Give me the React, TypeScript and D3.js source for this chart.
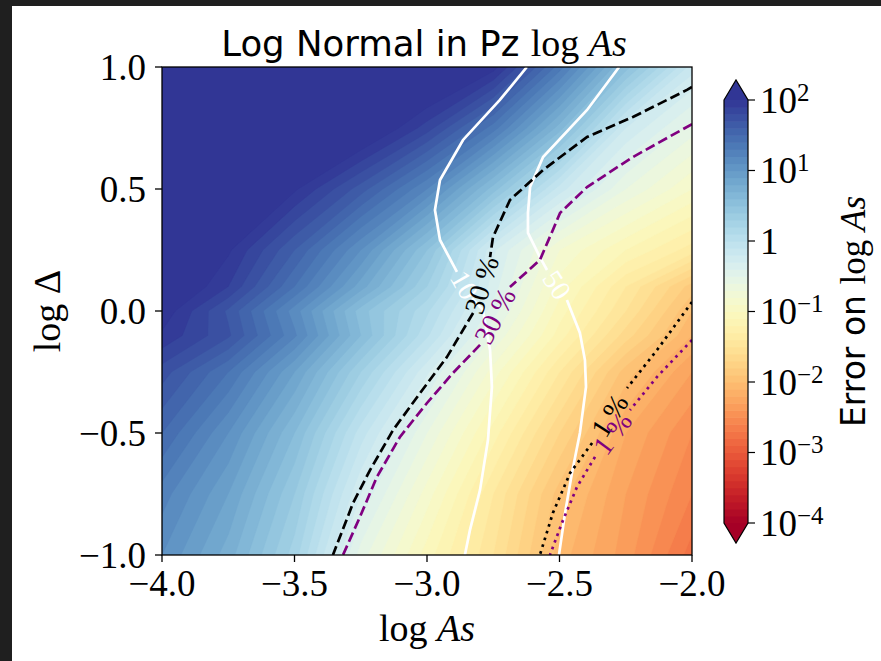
import React, { useEffect } from 'react';
import * as d3 from 'd3';

// ---------- layout ----------
const W = 881;
const H = 661;
const PLOT = { left: 162, right: 692, top: 67, bottom: 555 };
const CBAR = { left: 724, right: 748, top: 100, bottom: 523, tip: 20 };

// ---------- data ----------
// grid of the filled field (log10 of the error on log As)
const xGrid = [-4, -3.75, -3.5, -3.25, -3, -2.75, -2.5, -2.25, -2];
const yGrid = [1, 0.75, 0.5, 0.25, 0.1, 0, -0.1, -0.25, -0.5, -0.75, -1];
const logError = [
  [2.4, 2.4, 2.4, 2.35, 2.3, 2.05, 1.35, 0.55, -0.15],
  [2.4, 2.4, 2.35, 2.2, 1.85, 1.35, 0.65, -0.2, -0.55],
  [2.4, 2.35, 2.02, 1.65, 1.2, 0.55, -0.15, -0.6, -0.9],
  [2.3, 2.02, 1.6, 1.1, 0.5, -0.28, -0.8, -1.1, -1.35],
  [2.2, 1.9, 1.4, 0.85, 0.3, -0.35, -0.95, -1.4, -1.85],
  [2.08, 1.68, 1.15, 0.55, 0.12, -0.45, -1.05, -1.5, -2.0],
  [1.98, 1.72, 1.22, 0.6, 0.02, -0.6, -1.15, -1.65, -2.1],
  [1.75, 1.4, 0.9, 0.3, -0.28, -0.85, -1.4, -1.95, -2.3],
  [1.5, 1.1, 0.6, -0.05, -0.6, -1.15, -1.7, -2.2, -2.5],
  [1.25, 0.9, 0.4, -0.3, -0.85, -1.4, -1.95, -2.3, -2.6],
  [1.1, 0.75, 0.25, -0.55, -1.05, -1.5, -2.05, -2.35, -2.75],
];

const levelMin = -4;
const levelMax = 2;
const levelCount = 60;

const xTicks = [-4, -3.5, -3, -2.5, -2];
const yTicks = [-1, -0.5, 0, 0.5, 1];
const cbarTicks = [-4, -3, -2, -1, 0, 1, 2];

type Pt = [number, number];

// labelled contour lines (segment before and after the inline label)
const white10A: Pt[] = [[-2.623, 1.0], [-2.725, 0.865], [-2.864, 0.701], [-2.951, 0.537], [-2.97, 0.414], [-2.951, 0.291], [-2.887, 0.16]];
const white10B: Pt[] = [[-2.83, 0.053], [-2.789, 0.004], [-2.762, -0.16], [-2.755, -0.311], [-2.77, -0.529], [-2.8, -0.734], [-2.838, -0.898], [-2.857, -1.0]];
const white50A: Pt[] = [[-2.275, 1.0], [-2.396, 0.824], [-2.562, 0.631], [-2.611, 0.508], [-2.619, 0.402], [-2.619, 0.32], [-2.574, 0.221], [-2.547, 0.168]];
const white50B: Pt[] = [[-2.472, 0.045], [-2.423, -0.09], [-2.404, -0.201], [-2.4, -0.311], [-2.423, -0.5], [-2.453, -0.664], [-2.479, -0.828], [-2.502, -1.0]];
const black30A: Pt[] = [[-2.0, 0.918], [-2.019, 0.906], [-2.223, 0.795], [-2.396, 0.713], [-2.562, 0.578], [-2.687, 0.455], [-2.751, 0.303], [-2.762, 0.221]];
const black30B: Pt[] = [[-2.826, -0.008], [-2.925, -0.189], [-3.026, -0.336], [-3.128, -0.488], [-3.215, -0.652], [-3.279, -0.787], [-3.355, -1.0]];
const purple30A: Pt[] = [[-2.0, 0.766], [-2.223, 0.631], [-2.396, 0.508], [-2.498, 0.402], [-2.525, 0.332], [-2.574, 0.209], [-2.687, 0.098]];
const purple30B: Pt[] = [[-2.8, -0.139], [-2.902, -0.254], [-3.0, -0.377], [-3.102, -0.516], [-3.189, -0.68], [-3.253, -0.844], [-3.317, -1.0]];
const black1A: Pt[] = [[-2.0, 0.037], [-2.132, -0.16], [-2.245, -0.316]];
const black1B: Pt[] = [[-2.377, -0.541], [-2.46, -0.664], [-2.525, -0.828], [-2.574, -1.0]];
const purple1A: Pt[] = [[-2.0, -0.119], [-2.132, -0.27], [-2.234, -0.406]];
const purple1B: Pt[] = [[-2.366, -0.598], [-2.434, -0.721], [-2.491, -0.869], [-2.536, -1.0]];

const lineSpecs = [
  { a: white10A, b: white10B, label: '10', color: '#ffffff', style: 'solid' },
  { a: white50A, b: white50B, label: '50', color: '#ffffff', style: 'solid' },
  { a: black30A, b: black30B, label: '30 %', color: '#000000', style: 'dashed' },
  { a: purple30A, b: purple30B, label: '30 %', color: '#800080', style: 'dashed' },
  { a: black1A, b: black1B, label: '1 %', color: '#000000', style: 'dotted' },
  { a: purple1A, b: purple1B, label: '1 %', color: '#800080', style: 'dotted' },
];

const OVER = '#313695';
const UNDER = '#a50026';
const SERIF = '"Liberation Serif", "DejaVu Serif", serif';
const SANS = '"DejaVu Sans", sans-serif';

export default function App() {
  useEffect(() => {
    document.documentElement.style.overflow = 'hidden';
    document.body.style.overflow = 'hidden';
    document.body.style.margin = '0';
  }, []);

  const xScale = d3.scaleLinear().domain([-4, -2]).range([PLOT.left, PLOT.right]);
  const yScale = d3.scaleLinear().domain([-1, 1]).range([PLOT.bottom, PLOT.top]);
  const cScale = d3.scaleLinear().domain([levelMin, levelMax]).range([CBAR.bottom, CBAR.top]);
  const cmap = (v: number) => d3.interpolateRdYlBu((v - levelMin) / (levelMax - levelMin));
  const step = (levelMax - levelMin) / levelCount;
  const levels = d3.range(0, levelCount + 1).map((i) => +(levelMin + i * step).toFixed(4));
  const bandColor = (t: number) =>
    t < levelMin ? UNDER : t >= levelMax - 1e-9 ? OVER : cmap(t + step / 2);

  const nx = xGrid.length;
  const ny = yGrid.length;
  const values = logError.flat();
  const thresholds = [-10, ...levels];
  const contours = d3.contours().size([nx, ny]).thresholds(thresholds)(values);
  const ix = d3.scaleLinear().domain(d3.range(nx)).range(xGrid);
  const iy = d3.scaleLinear().domain(d3.range(ny)).range(yGrid);
  const proj = d3.geoTransform({
    point(x: number, y: number) {
      const gx = Math.max(0, Math.min(nx - 1, x - 0.5));
      const gy = Math.max(0, Math.min(ny - 1, y - 0.5));
      (this as any).stream.point(xScale(ix(gx)), yScale(iy(gy)));
    },
  });
  const geoPath = d3.geoPath(proj);

  const line = d3
    .line<Pt>()
    .x((d) => xScale(d[0]))
    .y((d) => yScale(d[1]));

  const fmt = d3.format('.1f');

  const dashFor = (s: string) => (s === 'dashed' ? '10,4.3' : s === 'dotted' ? '2.7,4.4' : undefined);

  const labels = lineSpecs.map((s) => {
    const p0 = s.a[s.a.length - 1];
    const p1 = s.b[0];
    const x0 = xScale(p0[0]), y0 = yScale(p0[1]);
    const x1 = xScale(p1[0]), y1 = yScale(p1[1]);
    let ang = (Math.atan2(y1 - y0, x1 - x0) * 180) / Math.PI;
    if (ang > 90) ang -= 180;
    if (ang < -90) ang += 180;
    return { x: (x0 + x1) / 2, y: (y0 + y1) / 2, ang, text: s.label, color: s.color };
  });

  const cx = (CBAR.left + CBAR.right) / 2;
  const cbarOutline = `M${CBAR.left},${CBAR.top} L${cx},${CBAR.top - CBAR.tip} L${CBAR.right},${CBAR.top} L${CBAR.right},${CBAR.bottom} L${cx},${CBAR.bottom + CBAR.tip} L${CBAR.left},${CBAR.bottom} Z`;

  return (
    <svg
      width={W}
      height={H}
      viewBox={`0 0 ${W} ${H}`}
      style={{ position: 'fixed', left: 0, top: 0, display: 'block', background: '#ffffff' }}
    >
      <rect x={0} y={0} width={W} height={H} fill="#ffffff" />
      <rect x={0} y={0} width={W} height={6} fill="#1f1f1f" />
      <rect x={0} y={0} width={12} height={H} fill="#1f1f1f" />

      <defs>
        <clipPath id="plotClip">
          <rect x={PLOT.left} y={PLOT.top} width={PLOT.right - PLOT.left} height={PLOT.bottom - PLOT.top} />
        </clipPath>
      </defs>

      {/* filled contours */}
      <g clipPath="url(#plotClip)">
        {contours.map((c, i) => (
          <path key={i} d={geoPath(c as any) || ''} fill={bandColor(c.value)} stroke={bandColor(c.value)} strokeWidth={0.4} />
        ))}
        {lineSpecs.map((s, i) => (
          <g key={i}>
            {[s.a, s.b].map((seg, j) => (
              <path
                key={j}
                d={line(seg) || ''}
                fill="none"
                stroke={s.color}
                strokeWidth={2.7}
                strokeDasharray={dashFor(s.style)}
              />
            ))}
          </g>
        ))}
        {labels.map((l, i) => (
          <text
            key={i}
            transform={`translate(${l.x},${l.y}) rotate(${l.ang})`}
            textAnchor="middle"
            dominantBaseline="central"
            fontFamily={SERIF}
            fontSize={28}
            fill={l.color}
          >
            {l.text}
          </text>
        ))}
      </g>

      {/* axes frame */}
      <rect
        x={PLOT.left}
        y={PLOT.top}
        width={PLOT.right - PLOT.left}
        height={PLOT.bottom - PLOT.top}
        fill="none"
        stroke="#000"
        strokeWidth={1.3}
      />

      {/* x ticks */}
      {xTicks.map((t) => (
        <g key={`x${t}`}>
          <line x1={xScale(t)} x2={xScale(t)} y1={PLOT.bottom} y2={PLOT.bottom + 7} stroke="#000" strokeWidth={1.3} />
          <text x={xScale(t)} y={PLOT.bottom + 41} textAnchor="middle" fontFamily={SERIF} fontSize={37} fill="#000">
            {fmt(t)}
          </text>
        </g>
      ))}
      {/* y ticks */}
      {yTicks.map((t) => (
        <g key={`y${t}`}>
          <line x1={PLOT.left - 7} x2={PLOT.left} y1={yScale(t)} y2={yScale(t)} stroke="#000" strokeWidth={1.3} />
          <text x={PLOT.left - 16} y={yScale(t) + 12.5} textAnchor="end" fontFamily={SERIF} fontSize={37} fill="#000">
            {fmt(t)}
          </text>
        </g>
      ))}

      {/* axis labels */}
      <text x={(PLOT.left + PLOT.right) / 2} y={641} textAnchor="middle" fontFamily={SERIF} fontSize={38} fill="#000">
        log <tspan fontStyle="italic">As</tspan>
      </text>
      <text
        transform={`translate(60,${(PLOT.top + PLOT.bottom) / 2}) rotate(-90)`}
        textAnchor="middle"
        fontFamily={SERIF}
        fontSize={38}
        fill="#000"
      >
        log Δ
      </text>

      {/* title */}
      <text x={424} y={56} textAnchor="middle" fontFamily={SANS} fontSize={35.5} fill="#000">
        Log Normal in Pz{' '}
        <tspan fontFamily={SERIF} fontSize={38}>
          log <tspan fontStyle="italic">As</tspan>
        </tspan>
      </text>

      {/* colorbar */}
      <g>
        {levels.slice(0, -1).map((l) => (
          <rect
            key={`cb${l}`}
            x={CBAR.left}
            y={cScale(l + step)}
            width={CBAR.right - CBAR.left}
            height={cScale(l) - cScale(l + step) + 0.6}
            fill={bandColor(l)}
          />
        ))}
        <path d={`M${CBAR.left},${CBAR.top} L${cx},${CBAR.top - CBAR.tip} L${CBAR.right},${CBAR.top} Z`} fill={OVER} />
        <path d={`M${CBAR.left},${CBAR.bottom} L${cx},${CBAR.bottom + CBAR.tip} L${CBAR.right},${CBAR.bottom} Z`} fill={UNDER} />
        <path d={cbarOutline} fill="none" stroke="#000" strokeWidth={1.2} />
        {cbarTicks.map((t) => (
          <g key={`c${t}`}>
            <line x1={CBAR.right} x2={CBAR.right + 7} y1={cScale(t)} y2={cScale(t)} stroke="#000" strokeWidth={1.2} />
            <text x={CBAR.right + 12} y={cScale(t) + 12.5} fontFamily={SERIF} fontSize={37} fill="#000">
              {t === 0 ? '1' : '10'}
              {t !== 0 && (
                <tspan dy={-12} fontSize={25}>
                  {t < 0 ? `\u2212${-t}` : `${t}`}
                </tspan>
              )}
            </text>
          </g>
        ))}
        <text
          transform={`translate(865,${(CBAR.top + CBAR.bottom) / 2}) rotate(-90)`}
          textAnchor="middle"
          fontFamily={SANS}
          fontSize={33}
          fill="#000"
        >
          Error on{' '}
          <tspan fontFamily={SERIF} fontSize={35}>
            log <tspan fontStyle="italic">As</tspan>
          </tspan>
        </text>
      </g>
    </svg>
  );
}
